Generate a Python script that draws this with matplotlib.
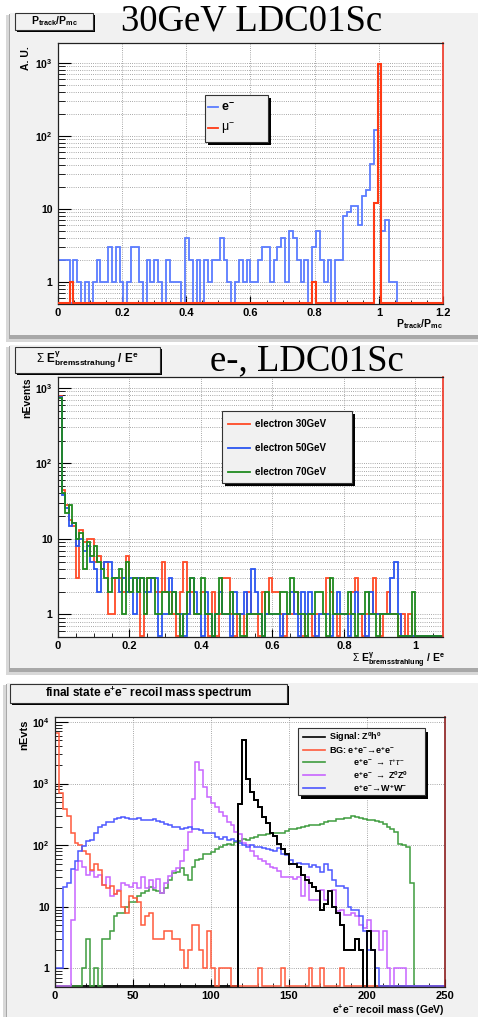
import numpy as np
import matplotlib
matplotlib.use("Agg")
import matplotlib.pyplot as plt
from matplotlib.patches import Rectangle
from matplotlib.ticker import NullFormatter

plt.rcParams["font.family"] = ["Liberation Sans", "DejaVu Sans"]
plt.rcParams["mathtext.fontset"] = "custom"
plt.rcParams["mathtext.rm"] = "Liberation Sans"
plt.rcParams["mathtext.bf"] = "Liberation Sans:bold"
plt.rcParams["mathtext.it"] = "Liberation Sans:italic"

# ---------------- data ----------------
# Panel 1: P_track / P_mc, 100 bins from 0 to 1.2
ptrack_edges = (0.0, 0.012)
e_minus = [2, 2, 2, 0, 2, 1, 0, 1, 0, 1,
           2, 1, 1, 3, 1, 3, 1, 0, 1, 3,
           3, 1, 0, 2, 1, 2, 1, 0, 2, 1,
           1, 1, 0, 4, 2, 0, 2, 0, 2, 1,
           2, 2, 4, 2, 1, 0, 1, 2, 1, 2,
           1, 1, 2, 3, 3, 1, 2, 3, 4, 1,
           5, 4, 2, 1, 2, 0, 3, 5, 2, 1,
           2, 0, 2, 2, 8, 9, 11, 11, 6, 15,
           18, 41, 120, 700, 5, 7, 1, 1, 0, 0,
           0, 0, 0, 0, 0, 0, 0, 0, 0, 0]
mu_minus = [0, 0, 0, 1, 0, 0, 0, 0, 0, 0,
            0, 0, 0, 0, 0, 0, 0, 0, 0, 0,
            0, 0, 0, 0, 0, 0, 0, 0, 0, 0,
            0, 0, 0, 0, 0, 0, 0, 0, 0, 0,
            0, 0, 0, 0, 0, 0, 0, 0, 0, 0,
            0, 0, 0, 0, 0, 0, 0, 0, 0, 0,
            0, 0, 0, 0, 0, 0, 1, 0, 0, 0,
            0, 0, 0, 0, 0, 0, 0, 0, 0, 0,
            0, 0, 12, 970, 0, 0, 0, 0, 0, 0,
            0, 0, 0, 0, 0, 0, 0, 0, 0, 0]

# Panel 2: summed bremsstrahlung energy fraction, bins of 0.01
brems_edges = (0.0, 0.01)
electron_30 = [780, 44, 28, 18, 15, 3, 13, 9, 10, 10,
               5, 6, 4, 5, 1, 1, 3, 3, 2, 6,
               2, 3, 3, 0, 1, 3, 3, 2, 2, 5,
               2, 2, 1, 0, 2, 5, 1, 2, 1, 1,
               2, 1, 0, 2, 0, 1, 3, 3, 1, 0,
               1, 1, 0, 2, 1, 1, 0, 2, 1, 3,
               2, 2, 1, 0, 1, 1, 2, 1, 0, 1,
               1, 0, 1, 1, 1, 3, 2, 1, 0, 1,
               1, 1, 2, 3, 1, 0, 1, 1, 3, 1,
               0, 1, 2, 1, 1, 0, 1, 0, 1, 0,
               0, 0, 0, 0, 0, 0, 0, 0]
electron_50 = [770, 38, 26, 15, 16, 8, 10, 7, 8, 5,
               4, 2, 4, 5, 5, 3, 3, 2, 3, 2,
               3, 1, 3, 3, 2, 2, 3, 3, 0, 1,
               1, 3, 2, 1, 1, 0, 1, 3, 2, 1,
               0, 2, 1, 0, 1, 2, 1, 1, 0, 2,
               1, 1, 2, 1, 4, 2, 1, 0, 1, 1,
               1, 1, 0, 1, 1, 2, 1, 0, 2, 1,
               2, 1, 0, 1, 1, 1, 0, 1, 2, 1,
               1, 0, 1, 2, 1, 1, 0, 2, 1, 1,
               1, 1, 1, 3, 5, 1, 0, 0, 0, 0,
               0, 0, 0, 0, 0, 0, 0, 0]
electron_70 = [740, 40, 22, 28, 16, 10, 12, 4, 9, 6,
               8, 5, 4, 3, 2, 3, 3, 4, 1, 5,
               2, 3, 2, 3, 1, 3, 3, 1, 1, 2,
               2, 1, 2, 1, 0, 1, 2, 3, 1, 1,
               3, 1, 1, 0, 1, 3, 1, 1, 2, 1,
               1, 0, 0, 1, 1, 1, 1, 0, 2, 1,
               1, 1, 2, 2, 1, 3, 2, 1, 1, 0,
               1, 1, 2, 2, 1, 0, 3, 1, 1, 1,
               1, 2, 1, 0, 1, 1, 2, 1, 1, 0,
               1, 1, 1, 1, 1, 0, 0, 0, 0, 2,
               0, 0, 0, 0, 0, 0, 0, 0]

# Panel 3: e+e- recoil mass, 100 bins of 2.5 GeV from 0 to 250
recoil_edges = (0.0, 2.5)
signal_zh = [0] * 47 + [470, 5100, 1180, 730, 540, 410, 290, 225, 155, 140,
                        106, 86, 71, 50, 50, 45, 33, 27, 24, 21,
                        18, 9, 11, 18, 10, 8, 5, 2, 2, 2,
                        3, 2, 0, 4, 2] + [0] * 18
bg_ee = [6500, 690, 380, 295, 160, 110, 100, 80, 71, 40,
         50, 40, 23, 20, 22, 16, 18, 10, 8, 15,
         14, 12, 5, 7, 8, 3, 3, 3, 4, 4,
         3, 3, 2, 1, 2, 5, 5, 2, 1, 4,
         1, 0, 1, 1, 1, 0, 0, 0, 0, 0,
         0, 0, 1, 0, 0, 0, 0, 0, 1, 0,
         0, 0, 0, 0, 0, 1, 0, 0, 1, 0,
         0, 0, 0, 1, 0, 0, 0, 0, 0, 0,
         0, 0, 0, 0, 0, 0, 0, 0, 0, 0,
         0, 0, 0, 0, 0, 0, 0, 0, 0, 0]
bg_tautau = [0, 0, 0, 0, 0, 0, 0, 1, 3, 0,
             1, 0, 3, 3, 4, 7, 8, 8, 10, 12,
             12, 15, 17, 18, 21, 19, 18, 17, 20, 27,
             35, 37, 42, 33, 27, 45, 57, 60, 73, 73,
             78, 88, 93, 100, 106, 100, 113, 118, 125, 120,
             130, 135, 145, 147, 150, 158, 160, 158, 160, 170,
             185, 185, 190, 200, 205, 210, 210, 212, 220, 235,
             250, 245, 265, 270, 275, 280, 295, 285, 280, 270,
             260, 255, 250, 240, 220, 200, 180, 165, 105, 100,
             95, 24, 0, 0, 0, 0, 0, 0, 0, 0]
bg_zz = [0, 0, 0, 0, 6, 40, 55, 45, 33, 38,
         31, 33, 23, 30, 15, 16, 19, 24, 23, 21,
         24, 20, 31, 20, 27, 20, 28, 17, 24, 32,
         38, 42, 55, 85, 165, 570, 2200, 1650, 880, 610,
         475, 420, 350, 295, 240, 210, 165, 150, 110, 100,
         80, 66, 60, 55, 50, 45, 43, 38, 30, 30,
         30, 28, 30, 15, 30, 13, 13, 13, 19, 13,
         18, 19, 8.5, 9, 7.5, 7.5, 8, 7, 5, 4.5,
         6, 4, 4, 2, 4, 1, 0, 1, 1, 1,
         0, 0, 0, 0, 0, 0, 0, 0, 0, 0]
bg_ww = [1, 1, 21, 24, 41, 55, 80, 97, 116, 120,
         160, 200, 215, 240, 240, 265, 275, 290, 280, 270,
         265, 275, 260, 255, 255, 265, 250, 240, 220, 210,
         200, 195, 185, 190, 200, 180, 185, 175, 160, 155,
         160, 135, 125, 135, 120, 125, 115, 110, 100, 95,
         100, 95, 92, 90, 88, 85, 80, 90, 73, 70,
         57, 50, 52, 50, 50, 45, 48, 45, 37, 50,
         40, 27, 22, 22, 20, 10, 9, 9, 7, 4,
         2, 2, 1, 0, 0, 0, 0, 0, 0, 0,
         0, 0, 0, 0, 0, 0, 0, 0, 0, 0]

# ---------------- figure layout (pixel units) ----------------
W, H = 478, 1017
fig = plt.figure(figsize=(W / 100, H / 100), dpi=100)
fig.patch.set_facecolor("white")


def px_rect(x0, y0, x1, y1):
    return [x0 / W, 1 - y1 / H, (x1 - x0) / W, (y1 - y0) / H]


bg = fig.add_axes([0, 0, 1, 1], zorder=0)
bg.set_xlim(0, W)
bg.set_ylim(H, 0)
bg.axis("off")

ov = fig.add_axes([0, 0, 1, 1], zorder=5)
ov.set_xlim(0, W)
ov.set_ylim(H, 0)
ov.axis("off")

PANEL = "#f1f1f1"

# canvas backgrounds with soft drop shadows
for (x0, y0, x1, y1) in [(10, 13, 478, 335), (10, 345, 478, 668), (7, 683, 478, 1017)]:
    bg.add_patch(Rectangle((x0 - 4, y0 + 2), x1 - x0 + 4, y1 - y0 + 5, fc="#d8d8d8", ec="none"))
    bg.add_patch(Rectangle((x0 - 1, y0 + 1), x1 - x0 + 1, y1 - y0 + 3, fc="#a8a8a8", ec="none"))
    bg.add_patch(Rectangle((x0, y0), x1 - x0, y1 - y0, fc=PANEL, ec="none"))


def shadow_box(x0, y0, x1, y1, sh=2.5, fc=PANEL):
    ov.add_patch(Rectangle((x0 + sh, y0 + sh), x1 - x0, y1 - y0, fc="black", ec="none"))
    ov.add_patch(Rectangle((x0, y0), x1 - x0, y1 - y0, fc=fc, ec="#333333", lw=0.8))


def draw_hist(ax, vals, spec, color, floor, lw=1.2, zorder=2):
    lo, width = spec
    v = np.asarray(vals, dtype=float)
    edges = lo + width * np.arange(len(v) + 1)
    v = np.where(v > 0, v, floor)
    ax.stairs(v, edges, baseline=None, color=color, lw=lw, zorder=zorder)


def style_axes(ax, xlim, ylim, xticks, xlabels, xminor, ydec, ylabs, minor_grid, right_color):
    ax.set_yscale("log")
    ax.set_xlim(*xlim)
    ax.set_ylim(*ylim)
    ax.set_facecolor("white")
    ax.set_xticks(xticks, xlabels, fontweight="bold", fontsize=8)
    ax.set_xticks(xminor, minor=True)
    ax.set_yticks(ydec, ylabs, fontweight="bold", fontsize=7.5)
    minors = [m * 10.0 ** k for k in range(-1, 5) for m in range(2, 10)]
    minors = [m for m in minors if ylim[0] <= m <= ylim[1]]
    ax.set_yticks(minors, minor=True)
    ax.yaxis.set_minor_formatter(NullFormatter())
    ax.tick_params(axis="y", which="major", direction="in", length=9, width=0.8, pad=4)
    ax.tick_params(axis="y", which="minor", direction="in", length=5, width=0.6)
    ax.tick_params(axis="x", which="major", direction="in", length=6, width=0.8, pad=3)
    ax.tick_params(axis="x", which="minor", direction="in", length=3, width=0.6)
    gkw = dict(ls=(0, (1, 1.6)), color="#8c8c8c", lw=0.6)
    ax.grid(True, which="major", axis="both", **gkw)
    if minor_grid:
        ax.grid(True, which="minor", axis="y", **gkw)
    ax.set_axisbelow(True)
    for s in ax.spines.values():
        s.set_linewidth(0.9)
        s.set_color("#222222")
    ax.spines["right"].set_color(right_color)
    ax.spines["right"].set_linewidth(1.2)


# ---------------- panel 1 ----------------
ax1 = fig.add_axes(px_rect(58, 43, 443, 304), zorder=1)
y1lim = (0.5, 1870)
style_axes(ax1, (0, 1.2), y1lim, [0, 0.2, 0.4, 0.6, 0.8, 1.0, 1.2],
           ["0", "0.2", "0.4", "0.6", "0.8", "1", "1.2"],
           np.arange(0, 1.2001, 0.05), [1, 10, 100, 1000],
           ["1", "10", r"$\mathbf{10^{2}}$", r"$\mathbf{10^{3}}$"], True, "#ee3322")
f1 = y1lim[0] * 1.025
draw_hist(ax1, e_minus, ptrack_edges, "#5b7cff", f1, lw=1.3)
draw_hist(ax1, mu_minus, ptrack_edges, "#ff3a14", f1, lw=1.5, zorder=3)

shadow_box(15, 13, 93, 30, sh=2)
ov.text(54, 21.5, r"$\mathbf{P_{track}/P_{mc}}$", ha="center", va="center", fontsize=7.5)
ov.text(252, 21, "30GeV LDC01Sc", family="Liberation Serif", fontsize=26.5,
        ha="center", va="center")
ov.text(26, 46, "A. U.", rotation=90, ha="center", va="top", fontsize=7.5, fontweight="bold")
ov.text(443, 317, r"$\mathbf{P_{track}/P_{mc}}$", ha="right", va="top", fontsize=7.5)

shadow_box(205, 95, 268, 142, sh=3)
ov.plot([208, 218], [107, 107], color="#5b7cff", lw=1.3)
ov.text(221, 107.5, r"$\mathbf{e^{-}}$", ha="left", va="center", fontsize=9)
ov.plot([208, 218], [128, 128], color="#ff3a14", lw=1.3)
ov.text(221, 128.5, r"$\mathrm{\mu^{-}}$", ha="left", va="center", fontsize=9)

# ---------------- panel 2 ----------------
ax2 = fig.add_axes(px_rect(58, 377, 443, 637), zorder=1)
y2lim = (0.5, 1400)
style_axes(ax2, (0, 1.077), y2lim, [0, 0.2, 0.4, 0.6, 0.8, 1.0],
           ["0", "0.2", "0.4", "0.6", "0.8", "1"],
           np.arange(0, 1.0771, 0.05), [1, 10, 100, 1000],
           ["1", "10", r"$\mathbf{10^{2}}$", r"$\mathbf{10^{3}}$"], True, "#ee3322")
f2 = y2lim[0] * 1.025
draw_hist(ax2, electron_50, brems_edges, "#2a55f0", f2, lw=1.3)
draw_hist(ax2, electron_70, brems_edges, "#1f8a1f", f2, lw=1.3)
draw_hist(ax2, electron_30, brems_edges, "#ff4a26", f2, lw=1.3, zorder=1.9)

shadow_box(15, 347, 160, 373, sh=2)
ov.text(87, 360, r"$\Sigma\ \mathbf{E^{\gamma}_{bremsstrahung}\ /\ E^{e}}$",
        ha="center", va="center", fontsize=8.5)
ov.text(307, 361, "e-, LDC01Sc", family="Liberation Serif", fontsize=26.5,
        ha="center", va="center")
ov.text(27, 377, "nEvents", rotation=90, ha="center", va="top", fontsize=7.5, fontweight="bold")
ov.text(445, 651, r"$\Sigma\ \mathbf{E^{\gamma}_{bremsstrahlung}\ /\ E^{e}}$",
        ha="right", va="top", fontsize=7.5)

shadow_box(222, 411, 352, 483, sh=3)
for yy, col, lab in [(424, "#ff4a26", "electron 30GeV"),
                     (448, "#2a55f0", "electron 50GeV"),
                     (472, "#1f8a1f", "electron 70GeV")]:
    ov.plot([228, 250], [yy, yy], color=col, lw=1.3)
    ov.text(255, yy, lab, ha="left", va="center", fontsize=7, fontweight="bold")

# ---------------- panel 3 ----------------
ax3 = fig.add_axes(px_rect(55, 717, 445, 987), zorder=1)
y3lim = (0.5, 12000)
style_axes(ax3, (0, 250), y3lim, [0, 50, 100, 150, 200, 250],
           ["0", "50", "100", "150", "200", "250"],
           np.arange(0, 250.1, 10), [1, 10, 100, 1000, 10000],
           ["1", "10", r"$\mathbf{10^{2}}$", r"$\mathbf{10^{3}}$", r"$\mathbf{10^{4}}$"],
           False, "#8b1c1c")
f3 = y3lim[0] * 1.025
draw_hist(ax3, signal_zh, recoil_edges, "black", f3, lw=1.3, zorder=2)
draw_hist(ax3, bg_tautau, recoil_edges, "#3f9c3f", f3, lw=1.1, zorder=2.1)
draw_hist(ax3, bg_zz, recoil_edges, "#c865ff", f3, lw=1.1, zorder=2.2)
draw_hist(ax3, bg_ee, recoil_edges, "#ff5a3c", f3, lw=1.1, zorder=2.3)
draw_hist(ax3, bg_ww, recoil_edges, "#4d57ff", f3, lw=1.1, zorder=2.4)
# keep the signal peak on top where it crosses the backgrounds
draw_hist(ax3, signal_zh, recoil_edges, "black", f3 * 0.5, lw=1.3, zorder=2.5)

shadow_box(10, 684, 287, 703, sh=2)
ov.text(148, 693.5, r"final state $\mathbf{e^{+}e^{-}}$ recoil mass spectrum",
        ha="center", va="center", fontsize=8.5, fontweight="bold")
ov.text(24, 720, "nEvts", rotation=90, ha="center", va="top", fontsize=8, fontweight="bold")
ov.text(445, 1003, r"$\mathbf{e^{+}e^{-}}$ recoil mass (GeV)", ha="right", va="top",
        fontsize=7.5, fontweight="bold")

shadow_box(298, 728, 425, 795, sh=3.5)
legend3 = [(737, "black", 329, r"Signal: $\mathbf{Z^{0}h^{0}}$"),
           (749.5, "#ff5a3c", 329, r"BG: $\mathbf{e^{+}e^{-}}\!\rightarrow\!\mathbf{e^{+}e^{-}}$"),
           (762, "#3f9c3f", 353, r"$\mathbf{e^{+}e^{-}}\ \rightarrow\ \tau^{+}\tau^{-}$"),
           (775, "#c865ff", 353, r"$\mathbf{e^{+}e^{-}}\ \rightarrow\ \mathbf{Z^{0}Z^{0}}$"),
           (787.5, "#4d57ff", 353, r"$\mathbf{e^{+}e^{-}}\!\rightarrow\!\mathbf{W^{+}W^{-}}$")]
for yy, col, xt, lab in legend3:
    ov.plot([303, 325], [yy, yy], color=col, lw=1.2)
    ov.text(xt, yy + 0.5, lab, ha="left", va="center", fontsize=6.5, fontweight="bold")

fig.savefig("out.png", dpi=100, facecolor="white")
